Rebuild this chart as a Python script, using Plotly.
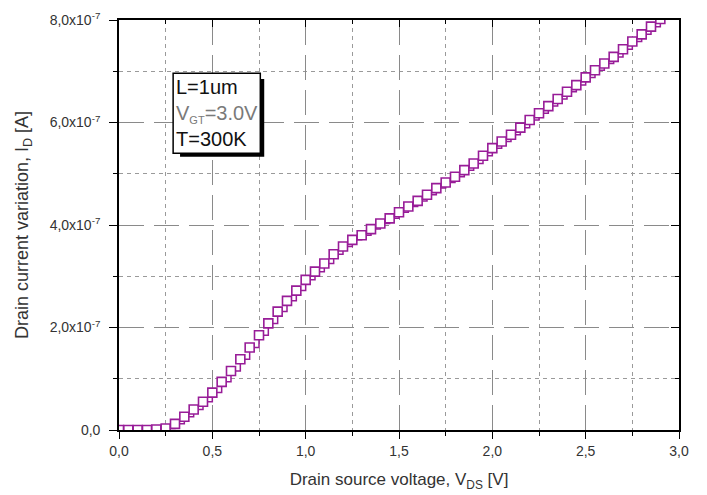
import plotly.graph_objects as go

# Drain-source voltage sweep [V]
vds = [0.00, 0.05, 0.10, 0.15, 0.20, 0.25, 0.30, 0.35, 0.40, 0.45,
       0.50, 0.55, 0.60, 0.65, 0.70, 0.75, 0.80, 0.85, 0.90, 0.95,
       1.00, 1.05, 1.10, 1.15, 1.20, 1.25, 1.30, 1.35, 1.40, 1.45,
       1.50, 1.55, 1.60, 1.65, 1.70, 1.75, 1.80, 1.85, 1.90, 1.95,
       2.00, 2.05, 2.10, 2.15, 2.20, 2.25, 2.30, 2.35, 2.40, 2.45,
       2.50, 2.55, 2.60, 2.65, 2.70, 2.75, 2.80, 2.85, 2.90]

# Drain current variation in units of 1e-7 A
id_1e7 = [0.00, 0.00, 0.00, 0.00, 0.01, 0.03, 0.12, 0.26, 0.40, 0.55,
          0.73, 0.94, 1.15, 1.38, 1.61, 1.85, 2.08, 2.31, 2.52, 2.72,
          2.93, 3.09, 3.25, 3.43, 3.58, 3.71, 3.80, 3.92, 4.03, 4.13,
          4.25, 4.36, 4.47, 4.59, 4.72, 4.83, 4.94, 5.07, 5.20, 5.35,
          5.50, 5.63, 5.76, 5.90, 6.05, 6.18, 6.32, 6.46, 6.60, 6.73,
          6.88, 7.02, 7.15, 7.28, 7.43, 7.58, 7.72, 7.87, 8.02]

x_tickvals = [0.0, 0.5, 1.0, 1.5, 2.0, 2.5, 3.0]
x_ticktext = ["0,0", "0,5", "1,0", "1,5", "2,0", "2,5", "3,0"]
x_minorvals = [0.25, 0.75, 1.25, 1.75, 2.25, 2.75]
y_tickvals = [0.0, 2e-7, 4e-7, 6e-7, 8e-7]
y_ticktext = ["0,0", "2,0x10<sup>-7</sup>", "4,0x10<sup>-7</sup>",
              "6,0x10<sup>-7</sup>", "8,0x10<sup>-7</sup>"]
y_minorvals = [1e-7, 3e-7, 5e-7, 7e-7]

params_lines = [
    "L=1um",
    "<span style='color:#7a7a7a'>V<sub><span style='font-size:11px'>GT</span></sub>=3.0V</span>",
    "T=300K",
]

id_amp = [v * 1e-7 for v in id_1e7]

CURVE = "#981c98"
TXT = "#333333"
FONT = "Liberation Sans, Arial, sans-serif"

fig = go.Figure()
fig.add_trace(go.Scatter(
    x=vds, y=id_amp, mode="lines+markers",
    line=dict(color=CURVE, width=1.5, shape="hv"),
    marker=dict(symbol="square", size=9, color="white",
                line=dict(color=CURVE, width=1.6)),
    showlegend=False, hoverinfo="skip",
))
# empty trace that carries the top/right frame axes
fig.add_trace(go.Scatter(x=[None], y=[None], xaxis="x2", yaxis="y2",
                         showlegend=False, hoverinfo="skip"))

x_range = [0, 3.0]
y_range = [0, 8e-7]

common = dict(showline=True, linecolor="black", linewidth=1.6, zeroline=False,
              tickcolor="black", tickwidth=1.4, automargin=False)

fig.update_layout(
    width=707, height=495,
    margin=dict(l=119, r=28, t=20, b=65),
    paper_bgcolor="white", plot_bgcolor="white",
    font=dict(family=FONT, color=TXT),
    xaxis=dict(
        range=x_range, tickmode="array", tickvals=x_tickvals, ticktext=x_ticktext,
        ticks="outside", ticklen=7, showgrid=True, gridcolor="#8a8a8a",
        gridwidth=1, griddash="25px,10px",
        tickfont=dict(size=14, color=TXT),
        minor=dict(tickmode="array", tickvals=x_minorvals, ticks="outside", ticklen=4,
                   tickcolor="black", showgrid=True, gridcolor="#9a9a9a",
                   griddash="4px,4px", gridwidth=1),
        title=dict(text="Drain source voltage, V<sub>DS</sub> [V]",
                   font=dict(size=17, color=TXT), standoff=16),
        **common,
    ),
    yaxis=dict(
        range=y_range, tickmode="array", tickvals=y_tickvals, ticktext=y_ticktext,
        ticks="outside", ticklen=8, showgrid=True, gridcolor="#8a8a8a",
        gridwidth=1, griddash="25px,10px", ticklabelstandoff=6,
        tickfont=dict(size=14, color=TXT),
        minor=dict(tickmode="array", tickvals=y_minorvals, ticks="outside", ticklen=4,
                   tickcolor="black", showgrid=True, gridcolor="#9a9a9a",
                   griddash="4px,4px", gridwidth=1),
        title=dict(text="Drain current variation, I<sub>D</sub> [A]",
                   font=dict(size=18, color=TXT), standoff=16),
        **common,
    ),
    xaxis2=dict(
        overlaying="x", side="top", matches="x", range=x_range,
        tickmode="array", tickvals=x_tickvals, showticklabels=False,
        ticks="inside", ticklen=7, showgrid=False,
        minor=dict(tickmode="array", tickvals=x_minorvals, ticks="inside", ticklen=4,
                   tickcolor="black"),
        **common,
    ),
    yaxis2=dict(
        overlaying="y", side="right", matches="y", range=y_range,
        tickmode="array", tickvals=y_tickvals, showticklabels=False,
        ticks="inside", ticklen=8, showgrid=False,
        minor=dict(tickmode="array", tickvals=y_minorvals, ticks="inside", ticklen=4,
                   tickcolor="black"),
        **common,
    ),
)

# parameter box with drop shadow
fig.add_shape(type="rect", xref="x", yref="y", x0=0.327, x1=0.778,
              y0=5.33e-7, y1=6.85e-7, fillcolor="black", line=dict(width=0))
fig.add_shape(type="rect", xref="x", yref="y", x0=0.290, x1=0.757,
              y0=5.40e-7, y1=6.96e-7, fillcolor="white",
              line=dict(color="black", width=1.5))
fig.add_annotation(
    xref="x", yref="y", x=0.295, y=6.18e-7, xanchor="left", yanchor="middle",
    text="<br>".join(params_lines), align="left", showarrow=False,
    font=dict(size=20, color="#111111", family=FONT),
)

fig.write_html("out.html")
